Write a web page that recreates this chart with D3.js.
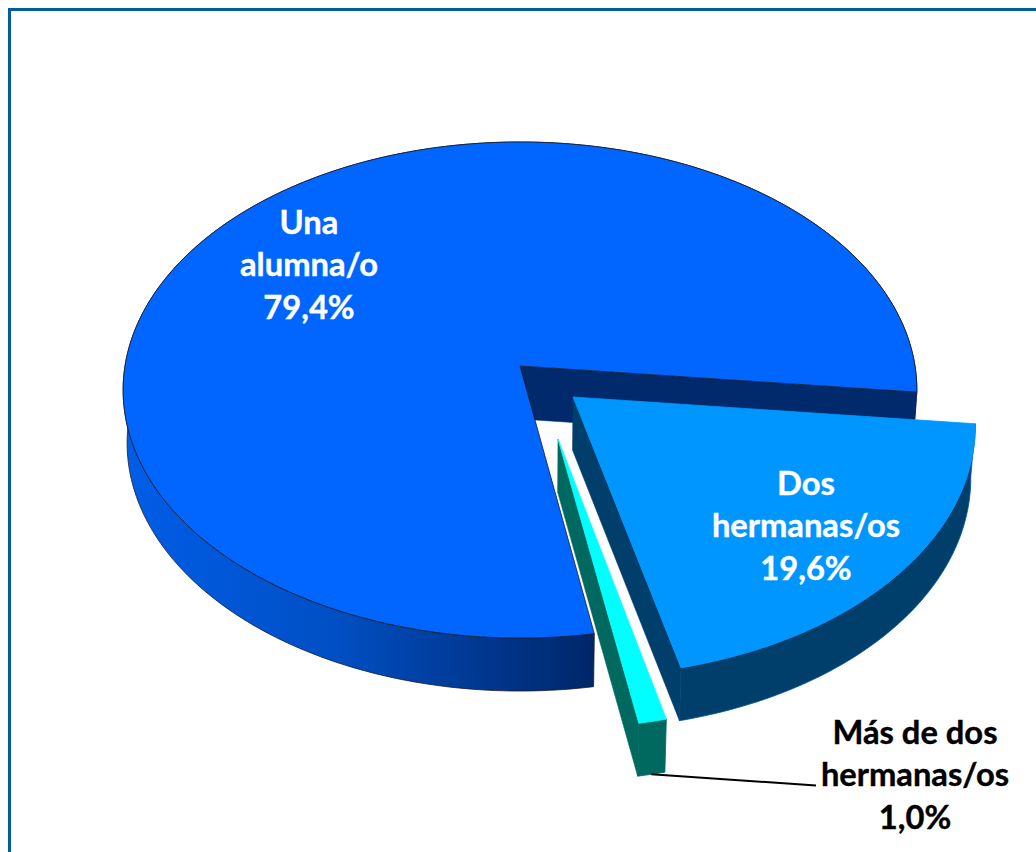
<!DOCTYPE html>
<html>
<head>
<meta charset="utf-8">
<script src="https://cdn.jsdelivr.net/npm/d3@7"></script>
<style>
  html, body { margin: 0; padding: 0; background: #fff; overflow: hidden; }
  svg { display: block; }
  text { font-family: Lato, "Open Sans", sans-serif; font-weight: 700; font-size: 32.7px; text-anchor: middle; stroke-width: 0.4px; }
</style>
</head>
<body>
<div id="chart"></div>
<script>
var categories = ['Una alumna/o', 'Dos hermanas/os', 'Más de dos hermanas/os']
var values = [79.4, 19.6, 1.0]
var labelLines = [
  ['Una', 'alumna/o', '79,4%'],
  ['Dos', 'hermanas/os', '19,6%'],
  ['Más de dos', 'hermanas/os', '1,0%']
]

var topColors = ['#0066ff', '#0096ff', '#00ffff']
var wallColors = ['url(#mainWall)', '#003e6b', '#00695f']
var faceColors = ['#002a6b', '#003e6b', '#00695f']
var edgeColors = ['#1a1a2a', '#00579a', '#00695f']
var textColors = ['#fff', '#fff', '#000']
// exploded slices, offset in pie plane units (right, back)
var offsets = [[0, 0], [0.1326, -0.1247], [0.0935, -0.289]]
var labelPos = [[309, 234], [806, 495], [915, 744]]
var lineHeight = 42.3

var width = 1036
var height = 852
var cx = 520
var cy = 366
var rx = 395
var ry = 245.7
var persp = 0.0968 // far side of the disc is drawn smaller
var depth = 53
var bottomScale = 0.99
var startDeg = 170.2

var svg = d3.select('#chart')
  .append('svg')
  .attr('width', width)
  .attr('height', height)

var grad = svg.append('defs')
  .append('linearGradient')
  .attr('id', 'mainWall')
  .attr('gradientUnits', 'userSpaceOnUse')
  .attr('x1', 122).attr('x2', 595)
  .attr('y1', 0).attr('y2', 0)
grad.append('stop').attr('offset', 0).attr('stop-color', '#005ee8')
grad.append('stop').attr('offset', 0.45).attr('stop-color', '#004fc4')
grad.append('stop').attr('offset', 1).attr('stop-color', '#002668')

svg.append('rect')
  .attr('x', 9.5)
  .attr('y', 9.5)
  .attr('width', 1060)
  .attr('height', 900)
  .attr('fill', 'none')
  .attr('stroke', '#005e9c')
  .attr('stroke-width', 3)

var pie = d3.pie()
  .sort(null)
  .startAngle(startDeg * Math.PI / 180)
  .endAngle((startDeg + 360) * Math.PI / 180)

var line = d3.line()

// pie plane -> screen
function project (u, v, bottom) {
  var w = 1 + persp * v
  var x = rx * u / w
  var y = -ry * v / w
  return bottom
    ? [cx + x * bottomScale, cy + y + depth]
    : [cx + x, cy + y]
}

function rim (angle, off, bottom) {
  return project(Math.sin(angle) + off[0], Math.cos(angle) + off[1], bottom)
}

function arcPoints (d, off, bottom) {
  var n = Math.ceil((d.endAngle - d.startAngle) * 180 / Math.PI)
  return d3.range(n + 1).map(function (i) {
    return rim(d.startAngle + (d.endAngle - d.startAngle) * i / n, off, bottom)
  })
}

var slices = pie(values)

function drawSlice (d) {
  var i = d.index
  var off = offsets[i]
  var g = svg.append('g').attr('class', 'slice').attr('data-name', categories[i])
  var top = arcPoints(d, off, false)
  var bottom = arcPoints(d, off, true)
  var apex = project(off[0], off[1], false)
  var apexBottom = project(off[0], off[1], true)

  // outer wall
  g.append('path')
    .attr('d', line(top.concat(bottom.slice().reverse())) + 'Z')
    .attr('fill', wallColors[i])
    .attr('stroke', edgeColors[i])
    .attr('stroke-width', 0.8)

  // cut faces, only the ones that turn toward the viewer
  var cuts = [
    [d.startAngle, d.startAngle - Math.PI / 2],
    [d.endAngle, d.endAngle + Math.PI / 2]
  ]
  cuts.forEach(function (c) {
    if (Math.cos(c[1]) >= 0) return
    g.append('path')
      .attr('d', line([apex, rim(c[0], off, false), rim(c[0], off, true), apexBottom]) + 'Z')
      .attr('fill', faceColors[i])
      .attr('stroke', faceColors[i])
      .attr('stroke-width', 0.5)
  })

  // top surface
  g.append('path')
    .attr('d', line([apex].concat(top)) + 'Z')
    .attr('fill', topColors[i])
    .attr('stroke', i === 0 ? edgeColors[i] : topColors[i])
    .attr('stroke-width', 0.8)
    .attr('stroke-linejoin', 'round')
}

// paint back to front
drawSlice(slices[0])
drawSlice(slices[2])
drawSlice(slices[1])

// leader for the small slice
var small = slices[2]
var leaderStart = rim((small.startAngle + small.endAngle) / 2, offsets[2], true)
svg.append('path')
  .attr('d', line([leaderStart, [816, 785.5]]))
  .attr('fill', 'none')
  .attr('stroke', '#000')
  .attr('stroke-width', 2)

labelLines.forEach(function (lines, i) {
  var t = svg.append('text')
    .attr('x', labelPos[i][0])
    .attr('y', labelPos[i][1])
    .attr('fill', textColors[i])
    .attr('stroke', textColors[i])
  lines.forEach(function (s, k) {
    t.append('tspan')
      .attr('x', labelPos[i][0])
      .attr('y', labelPos[i][1] + k * lineHeight)
      .text(s)
  })
})
</script>
</body>
</html>
